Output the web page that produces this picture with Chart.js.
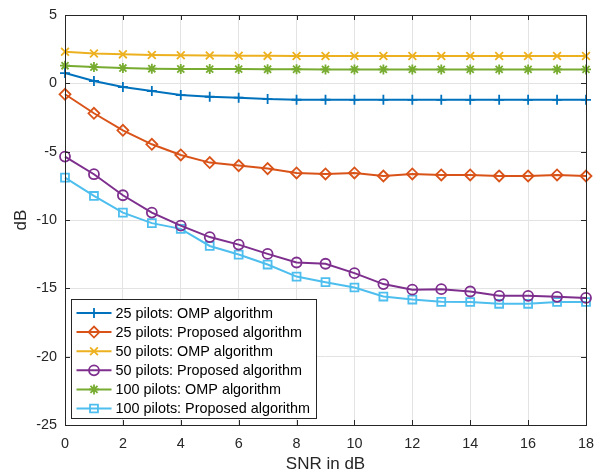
<!DOCTYPE html>
<html>
<head>
<meta charset="UTF-8">
<title>SNR vs dB</title>
<script src="https://cdn.jsdelivr.net/npm/chart.js"></script>
<style>
    body { margin: 0; background: #fff; }
    canvas { display: block; }
</style>
</head>
<body>
<canvas id="chart" width="598" height="473"></canvas>
<script>
// SNR axis (dB)
const snr = [0, 1, 2, 3, 4, 5, 6, 7, 8, 9, 10, 11, 12, 13, 14, 15, 16, 17, 18];

// values
const omp25  = [0.75, 0.17, -0.27, -0.56, -0.86, -0.98, -1.05, -1.15, -1.2, -1.2, -1.21, -1.21, -1.21, -1.21, -1.21, -1.21, -1.21, -1.21, -1.21];
const prop25 = [-0.8, -2.19, -3.44, -4.46, -5.24, -5.8, -6.02, -6.24, -6.56, -6.63, -6.56, -6.78, -6.63, -6.7, -6.7, -6.78, -6.78, -6.7, -6.78];
const omp50  = [2.31, 2.19, 2.12, 2.08, 2.05, 2.03, 2.02, 2.01, 2.0, 2.0, 2.0, 2.0, 2.0, 2.0, 2.0, 2.0, 2.0, 2.0, 2.0];
const prop50 = [-5.36, -6.65, -8.19, -9.46, -10.41, -11.25, -11.8, -12.48, -13.11, -13.2, -13.89, -14.69, -15.1, -15.06, -15.23, -15.55, -15.55, -15.62, -15.7];
const omp100 = [1.29, 1.19, 1.12, 1.07, 1.05, 1.04, 1.04, 1.03, 1.03, 1.02, 1.02, 1.02, 1.02, 1.02, 1.02, 1.02, 1.02, 1.02, 1.02];
const prop100 = [-6.9, -8.24, -9.46, -10.23, -10.65, -11.9, -12.53, -13.26, -14.14, -14.55, -14.94, -15.6, -15.82, -15.99, -16.0, -16.13, -16.13, -16.0, -16.0];

const xTicks = [0, 2, 4, 6, 8, 10, 12, 14, 16, 18];
const yTicks = [-25, -20, -15, -10, -5, 0, 5];

const FONT = '"Liberation Sans", Arial, Helvetica, sans-serif';
const AXIS = '#262626';

function series(label, ys, color, style, radius) {
    return {
        label: label,
        data: snr.map((x, i) => ({ x: x, y: ys[i] })),
        borderColor: color,
        backgroundColor: 'rgba(0,0,0,0)',
        pointBorderColor: color,
        pointBackgroundColor: 'rgba(0,0,0,0)',
        pointStyle: style,
        pointRadius: radius,
        pointBorderWidth: 1.8,
        borderWidth: 2,
        tension: 0,
        clip: false
    };
}

const datasets = [
    series('25 pilots: OMP algorithm', omp25, '#0072BD', 'cross', 5),
    series('25 pilots: Proposed algorithm', prop25, '#D95319', 'rectRot', 5.5),
    series('50 pilots: OMP algorithm', omp50, '#EDB120', 'crossRot', 5.5),
    series('50 pilots: Proposed algorithm', prop50, '#7E2F8E', 'circle', 5),
    series('100 pilots: OMP algorithm', omp100, '#77AC30', 'star', 5),
    series('100 pilots: Proposed algorithm', prop100, '#4DBEEE', 'rect', 5.6)
];

// box around the axes, inward ticks, and the legend inside the plot
const matlabAxes = {
    id: 'matlabAxes',
    afterDatasetsDraw(chart) {
        const ctx = chart.ctx;
        const a = chart.chartArea;
        const xs = chart.scales.x, ys = chart.scales.y;
        ctx.save();
        ctx.strokeStyle = AXIS;
        ctx.lineWidth = 1;
        ctx.beginPath();
        xTicks.forEach(v => {
            const px = Math.round(xs.getPixelForValue(v)) + 0.5;
            ctx.moveTo(px, a.bottom); ctx.lineTo(px, a.bottom - 5);
            ctx.moveTo(px, a.top); ctx.lineTo(px, a.top + 5);
        });
        yTicks.forEach(v => {
            const py = Math.round(ys.getPixelForValue(v)) + 0.5;
            ctx.moveTo(a.left, py); ctx.lineTo(a.left + 5, py);
            ctx.moveTo(a.right, py); ctx.lineTo(a.right - 5, py);
        });
        ctx.stroke();
        ctx.strokeRect(Math.round(a.left) + 0.5, Math.round(a.top) + 0.5,
            Math.round(a.right - a.left), Math.round(a.bottom - a.top));
        ctx.restore();
    },
    afterDraw(chart) {
        const ctx = chart.ctx;
        const a = chart.chartArea;
        const bx = Math.round(a.left) + 6.5, bw = 245;
        const rowH = 19.1, bh = 119;
        const by = Math.round(a.bottom) - 6.5 - bh;
        ctx.save();
        ctx.fillStyle = '#fff';
        ctx.fillRect(bx, by, bw, bh);
        ctx.strokeStyle = AXIS;
        ctx.lineWidth = 1;
        ctx.strokeRect(bx, by, bw, bh);
        ctx.font = '14.4px ' + FONT;
        ctx.textBaseline = 'middle';
        chart.data.datasets.forEach((ds, i) => {
            const cy = by + 13.5 + i * rowH;
            ctx.strokeStyle = ds.borderColor;
            ctx.lineWidth = 2;
            ctx.beginPath();
            ctx.moveTo(bx + 5, cy); ctx.lineTo(bx + 40, cy);
            ctx.stroke();
            ctx.fillStyle = 'rgba(0,0,0,0)';
            ctx.lineWidth = ds.pointBorderWidth;
            Chart.helpers.drawPoint(ctx, {
                pointStyle: ds.pointStyle, radius: ds.pointRadius,
                rotation: 0, borderWidth: ds.pointBorderWidth
            }, bx + 22.5, cy);
            ctx.fillStyle = '#000';
            ctx.fillText(ds.label, bx + 44, cy + 1);
        });
        ctx.restore();
    }
};

new Chart(document.getElementById('chart').getContext('2d'), {
    type: 'line',
    data: { datasets: datasets },
    options: {
        responsive: false,
        animation: false,
        layout: { autoPadding: false, padding: { left: 0, right: 12, top: 15, bottom: 0 } },
        plugins: { legend: { display: false }, tooltip: { enabled: false } },
        scales: {
            x: {
                type: 'linear',
                min: 0, max: 18,
                afterBuildTicks: s => { s.ticks = xTicks.map(v => ({ value: v })); },
                afterFit: s => { s.height = 48; s.paddingLeft = 0; s.paddingRight = 0; },
                grid: { color: '#e3e3e3', drawTicks: false },
                border: { display: false },
                ticks: { color: AXIS, font: { family: FONT, size: 14.4 }, padding: 10, maxRotation: 0 },
                title: { display: true, text: 'SNR in dB', color: AXIS,
                         font: { family: FONT, size: 17, lineHeight: 1 }, padding: { top: 0, bottom: 0 } }
            },
            y: {
                min: -25, max: 5,
                afterBuildTicks: s => { s.ticks = yTicks.map(v => ({ value: v })); },
                afterFit: s => { s.width = 65; s.paddingTop = 0; s.paddingBottom = 0; },
                grid: { color: '#e3e3e3', drawTicks: false },
                border: { display: false },
                ticks: { color: AXIS, font: { family: FONT, size: 14.4 }, padding: 8 },
                title: { display: true, text: 'dB', color: AXIS,
                         font: { family: FONT, size: 17 }, padding: { top: 11, bottom: 0 } }
            }
        }
    },
    plugins: [matlabAxes]
});
</script>
</body>
</html>
